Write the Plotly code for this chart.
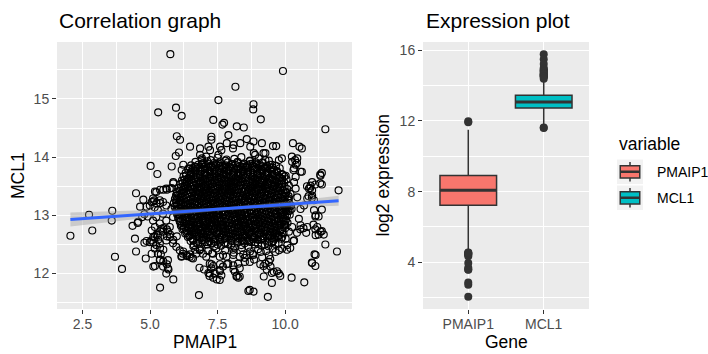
import plotly.graph_objects as go

W, H = 708, 354

# ---------------- data ----------------
# scatter: PMAIP1 (x) vs MCL1 (y)
pmaip1 = [
    5.75, 9.92, 8.16, 7.53, 8.83, 8.82, 5.96, 5.30, 6.17, 7.34,
    7.74, 7.68, 9.10, 8.21, 8.47, 11.49, 7.90, 5.99, 6.11, 7.27,
    7.27, 8.58, 8.83, 9.14, 6.48, 6.85, 7.16, 7.22, 7.84, 8.09,
    8.34, 8.71, 9.20, 9.55, 9.67, 10.29, 10.53, 10.62, 7.59, 7.53,
    5.95, 6.07, 5.02, 5.27, 5.80, 6.23, 6.17, 6.85, 6.91, 8.89,
    9.88, 10.25, 10.37, 10.44, 11.36, 11.30, 10.62, 10.31, 7.64, 8.07,
    7.08, 6.59, 8.84, 9.27, 9.77, 10.26, 10.45, 10.39, 10.33, 9.52,
    10.57, 2.05, 2.74, 2.86, 3.60, 3.58, 3.70, 3.96, 4.35, 4.48,
    4.44, 4.48, 4.56, 4.75, 4.63, 4.87, 4.84, 4.87, 5.12, 5.30,
    5.24, 5.37, 5.49, 5.62, 5.62, 5.74, 5.86, 5.99, 5.18, 5.12,
    5.37, 5.40, 5.37, 5.49, 5.62, 5.68, 5.86, 5.37, 5.49, 5.12,
    5.24, 5.37, 5.18, 5.37, 5.49, 5.62, 5.86, 5.80, 5.99, 6.17,
    6.23, 6.36, 6.48, 6.54, 6.60, 6.67, 6.83, 7.00, 7.16, 7.20,
    7.34, 7.47, 7.59, 6.81, 7.28, 7.34, 7.59, 7.84, 8.09, 8.21,
    8.27, 8.64, 8.83, 9.36, 9.20, 9.32, 9.51, 9.70, 9.82, 9.51,
    9.08, 10.07, 10.19, 10.31, 10.44, 10.56, 10.68, 10.78, 10.24, 10.71,
    10.99, 11.12, 11.09, 11.05, 11.12, 11.24, 11.36, 11.43, 11.12, 11.24,
    11.36, 11.49, 10.99, 10.87, 11.30, 11.36, 11.12, 10.81, 10.93, 11.92,
    11.98, 4.79, 4.71, 4.91, 4.99, 5.06, 5.16, 4.54, 4.79, 4.99,
    5.06, 5.12, 5.06, 5.18, 5.06, 5.60, 5.66, 5.48, 5.36, 5.66,
    5.29, 7.21, 7.27, 7.21, 7.40, 7.58, 7.64, 7.58, 7.70, 7.89,
    8.08, 8.26, 8.32, 8.14, 8.20, 8.32, 8.69, 8.51, 8.69, 5.48,
    5.29, 5.17, 5.36, 5.23, 5.17, 5.60, 5.73, 5.85, 5.97, 6.10,
    6.22, 6.16, 6.35, 6.47, 6.59, 6.71, 6.84, 6.96, 7.08, 7.33,
    7.58, 7.83, 8.08, 8.32, 8.57, 8.82, 5.86, 5.60, 5.73, 5.23,
    5.11, 5.36, 5.17, 11.31, 11.00, 10.94, 10.88, 11.00, 11.00, 10.82,
    11.07, 10.39, 10.33, 10.14, 10.39, 10.20, 10.45, 10.14, 10.70, 11.07,
    11.13, 10.51, 10.82, 10.57, 11.19, 11.31, 11.13, 10.33, 10.02, 10.08,
    9.89, 9.77, 9.64, 11.13, 11.00, 9.77, 9.58, 9.46, 9.27, 9.40,
    9.21, 10.02, 10.26, 10.14, 9.89, 10.57, 10.02, 10.02, 9.89, 9.58,
    5.11, 5.23, 5.36, 5.48, 5.60, 5.73, 5.85, 5.42, 5.66, 5.29,
    5.60, 5.79, 5.97, 5.48,
    # dense core, row by row
    6.92, 7.24, 7.50, 7.83, 8.12, 8.38, 8.70, 9.02, 9.27,
    6.68, 6.93, 7.12, 7.37, 7.58, 7.79, 8.03, 8.24, 8.47, 8.69, 8.91, 9.15, 9.40,
    6.52, 6.70, 6.90, 7.06, 7.25, 7.43, 7.60, 7.80, 7.97, 8.16, 8.33, 8.52, 8.70, 8.88, 9.07, 9.25, 9.44, 9.66,
    6.41, 6.60, 6.77, 6.95, 7.13, 7.30, 7.47, 7.66, 7.83, 8.00, 8.19, 8.36, 8.54, 8.71, 8.89, 9.06, 9.24, 9.43, 9.60, 9.80,
    6.32, 6.50, 6.68, 6.85, 7.02, 7.20, 7.38, 7.55, 7.72, 7.90, 8.08, 8.26, 8.44, 8.62, 8.80, 8.98, 9.15, 9.33, 9.52, 9.70, 9.90,
    6.24, 6.42, 6.60, 6.77, 6.94, 7.11, 7.29, 7.47, 7.64, 7.82, 8.00, 8.17, 8.35, 8.53, 8.71, 8.89, 9.07, 9.25, 9.43, 9.61, 9.80, 9.97,
    6.18, 6.35, 6.52, 6.70, 6.87, 7.04, 7.21, 7.39, 7.56, 7.73, 7.91, 8.09, 8.26, 8.44, 8.62, 8.80, 8.98, 9.16, 9.34, 9.52, 9.70, 9.88, 10.05,
    6.12, 6.28, 6.45, 6.62, 6.79, 6.96, 7.13, 7.30, 7.48, 7.65, 7.82, 8.00, 8.17, 8.35, 8.53, 8.71, 8.89, 9.07, 9.25, 9.43, 9.61, 9.79, 9.97,
    6.05, 6.22, 6.39, 6.56, 6.73, 6.90, 7.07, 7.24, 7.41, 7.58, 7.75, 7.92, 8.10, 8.27, 8.45, 8.63, 8.81, 8.99, 9.17, 9.35, 9.53, 9.71, 9.89, 10.08,
    6.00, 6.17, 6.34, 6.51, 6.68, 6.85, 7.02, 7.19, 7.36, 7.53, 7.70, 7.87, 8.04, 8.21, 8.39, 8.57, 8.75, 8.93, 9.11, 9.29, 9.47, 9.65, 9.83, 10.01,
    5.96, 6.12, 6.29, 6.46, 6.63, 6.80, 6.97, 7.14, 7.31, 7.48, 7.65, 7.82, 7.99, 8.16, 8.33, 8.51, 8.69, 8.87, 9.05, 9.23, 9.41, 9.59, 9.77, 9.95, 10.13,
    5.92, 6.08, 6.25, 6.42, 6.59, 6.76, 6.93, 7.10, 7.27, 7.44, 7.61, 7.78, 7.95, 8.12, 8.30, 8.48, 8.66, 8.84, 9.02, 9.20, 9.38, 9.56, 9.74, 9.92, 10.10,
    5.88, 6.05, 6.22, 6.39, 6.56, 6.73, 6.90, 7.07, 7.24, 7.41, 7.58, 7.75, 7.92, 8.09, 8.26, 8.44, 8.62, 8.80, 8.98, 9.16, 9.34, 9.52, 9.70, 9.88, 10.06, 10.22,
    5.91, 6.07, 6.24, 6.41, 6.58, 6.75, 6.92, 7.09, 7.26, 7.43, 7.60, 7.77, 7.94, 8.11, 8.28, 8.46, 8.64, 8.82, 9.00, 9.18, 9.36, 9.54, 9.72, 9.90, 10.08, 10.24,
    5.95, 6.11, 6.28, 6.45, 6.62, 6.79, 6.96, 7.13, 7.30, 7.47, 7.64, 7.81, 7.98, 8.15, 8.32, 8.50, 8.68, 8.86, 9.04, 9.22, 9.40, 9.58, 9.76, 9.94, 10.12,
    6.00, 6.16, 6.33, 6.50, 6.67, 6.84, 7.01, 7.18, 7.35, 7.52, 7.69, 7.86, 8.03, 8.20, 8.37, 8.55, 8.73, 8.91, 9.09, 9.27, 9.45, 9.63, 9.81, 9.99, 10.17,
    6.04, 6.20, 6.37, 6.54, 6.71, 6.88, 7.05, 7.22, 7.39, 7.56, 7.73, 7.90, 8.07, 8.24, 8.41, 8.59, 8.77, 8.95, 9.13, 9.31, 9.49, 9.67, 9.85, 10.03,
    6.10, 6.26, 6.43, 6.60, 6.77, 6.94, 7.11, 7.28, 7.45, 7.62, 7.79, 7.96, 8.13, 8.30, 8.47, 8.65, 8.83, 9.01, 9.19, 9.37, 9.55, 9.73, 9.91, 10.09,
    6.14, 6.31, 6.48, 6.65, 6.82, 6.99, 7.16, 7.33, 7.50, 7.67, 7.84, 8.01, 8.18, 8.35, 8.52, 8.70, 8.88, 9.06, 9.24, 9.42, 9.60, 9.78, 9.96,
    6.20, 6.37, 6.54, 6.71, 6.88, 7.05, 7.22, 7.39, 7.56, 7.73, 7.90, 8.07, 8.24, 8.41, 8.58, 8.76, 8.94, 9.12, 9.30, 9.48, 9.66, 9.84, 10.00,
    6.30, 6.47, 6.64, 6.81, 6.98, 7.15, 7.32, 7.49, 7.66, 7.83, 8.00, 8.17, 8.34, 8.51, 8.68, 8.86, 9.04, 9.22, 9.40, 9.58, 9.76, 9.94,
    6.40, 6.57, 6.74, 6.91, 7.08, 7.25, 7.42, 7.59, 7.76, 7.93, 8.10, 8.27, 8.44, 8.61, 8.79, 8.97, 9.15, 9.33, 9.51, 9.69, 9.86,
    6.50, 6.72, 6.93, 7.15, 7.37, 7.58, 7.80, 8.02, 8.24, 8.46, 8.68, 8.90, 9.12, 9.34, 9.56, 9.76,
    6.62, 6.88, 7.12, 7.38, 7.63, 7.88, 8.13, 8.38, 8.63, 8.88, 9.13, 9.38, 9.64,
    6.85, 7.15, 7.45, 7.78, 8.08, 8.40, 8.70, 9.00, 9.30, 9.55,
    7.30, 7.70, 8.10, 8.45, 8.80, 9.10, 9.40,
    8.50, 8.85, 9.15, 9.45,
    # dense core, in-between rows
    6.78, 6.97, 7.16, 7.34, 7.52, 7.69, 7.88, 8.06, 8.25, 8.43, 8.61, 8.79, 8.98, 9.17, 9.33,
    6.48, 6.66, 6.86, 7.03, 7.21, 7.39, 7.56, 7.75, 7.91, 8.09, 8.27, 8.45, 8.62, 8.80, 8.97, 9.16, 9.34, 9.53,
    6.50, 6.68, 6.86, 7.04, 7.22, 7.39, 7.57, 7.74, 7.92, 8.10, 8.27, 8.45, 8.63, 8.81, 8.98, 9.16, 9.34, 9.52, 9.70,
    6.33, 6.51, 6.69, 6.86, 7.03, 7.20, 7.38, 7.56, 7.73, 7.91, 8.09, 8.26, 8.44, 8.62, 8.80, 8.98, 9.16, 9.34, 9.52, 9.71, 9.88,
    6.27, 6.44, 6.61, 6.79, 6.96, 7.13, 7.30, 7.48, 7.65, 7.82, 8.00, 8.18, 8.35, 8.53, 8.71, 8.89, 9.07, 9.25, 9.43, 9.61, 9.79,
    6.20, 6.37, 6.54, 6.71, 6.88, 7.05, 7.22, 7.39, 7.57, 7.74, 7.91, 8.09, 8.26, 8.44, 8.62, 8.80, 8.98, 9.16, 9.34, 9.52, 9.70, 9.88,
    6.14, 6.31, 6.48, 6.65, 6.82, 6.99, 7.16, 7.33, 7.50, 7.67, 7.84, 8.01, 8.19, 8.36, 8.54, 8.72, 8.90, 9.08, 9.26, 9.44, 9.62, 9.80, 9.98,
    6.09, 6.26, 6.43, 6.60, 6.77, 6.94, 7.11, 7.28, 7.45, 7.62, 7.79, 7.96, 8.13, 8.30, 8.48, 8.66, 8.84, 9.02, 9.20, 9.38, 9.56, 9.74, 9.92,
    6.04, 6.21, 6.38, 6.55, 6.72, 6.89, 7.06, 7.23, 7.40, 7.57, 7.74, 7.91, 8.08, 8.25, 8.42, 8.60, 8.78, 8.96, 9.14, 9.32, 9.50, 9.68, 9.86, 10.04,
    6.00, 6.17, 6.34, 6.51, 6.68, 6.85, 7.02, 7.19, 7.36, 7.53, 7.70, 7.87, 8.04, 8.21, 8.38, 8.56, 8.74, 8.92, 9.10, 9.28, 9.46, 9.64, 9.82, 10.00,
    5.97, 6.14, 6.31, 6.48, 6.65, 6.82, 6.99, 7.16, 7.33, 7.50, 7.67, 7.84, 8.01, 8.18, 8.35, 8.53, 8.71, 8.89, 9.07, 9.25, 9.43, 9.61, 9.79, 9.97, 10.15,
    5.98, 6.15, 6.32, 6.49, 6.66, 6.83, 7.00, 7.17, 7.34, 7.51, 7.68, 7.85, 8.02, 8.19, 8.36, 8.54, 8.72, 8.90, 9.08, 9.26, 9.44, 9.62, 9.80, 9.98, 10.16,
    6.00, 6.17, 6.34, 6.51, 6.68, 6.85, 7.02, 7.19, 7.36, 7.53, 7.70, 7.87, 8.04, 8.21, 8.38, 8.56, 8.74, 8.92, 9.10, 9.28, 9.46, 9.64, 9.82, 10.00, 10.17,
    6.03, 6.20, 6.37, 6.54, 6.71, 6.88, 7.05, 7.22, 7.39, 7.56, 7.73, 7.90, 8.07, 8.24, 8.41, 8.59, 8.77, 8.95, 9.13, 9.31, 9.49, 9.67, 9.85, 10.03,
    6.08, 6.25, 6.42, 6.59, 6.76, 6.93, 7.10, 7.27, 7.44, 7.61, 7.78, 7.95, 8.12, 8.29, 8.46, 8.64, 8.82, 9.00, 9.18, 9.36, 9.54, 9.72, 9.90, 10.07,
    6.13, 6.30, 6.47, 6.64, 6.81, 6.98, 7.15, 7.32, 7.49, 7.66, 7.83, 8.00, 8.17, 8.34, 8.51, 8.69, 8.87, 9.05, 9.23, 9.41, 9.59, 9.77, 9.95,
    6.18, 6.35, 6.52, 6.69, 6.86, 7.03, 7.20, 7.37, 7.54, 7.71, 7.88, 8.05, 8.22, 8.39, 8.56, 8.74, 8.92, 9.10, 9.28, 9.46, 9.64, 9.82, 10.00,
    6.25, 6.42, 6.59, 6.76, 6.93, 7.10, 7.27, 7.44, 7.61, 7.78, 7.95, 8.12, 8.29, 8.46, 8.63, 8.81, 8.99, 9.17, 9.35, 9.53, 9.71, 9.89,
    6.35, 6.52, 6.69, 6.86, 7.03, 7.20, 7.37, 7.54, 7.71, 7.88, 8.05, 8.22, 8.39, 8.56, 8.73, 8.91, 9.09, 9.27, 9.45, 9.63, 9.81,
    6.45, 6.62, 6.79, 6.96, 7.13, 7.30, 7.47, 7.64, 7.81, 7.98, 8.15, 8.32, 8.49, 8.66, 8.84, 9.02, 9.20, 9.38, 9.56, 9.74,
    6.60, 6.80, 7.00, 7.20, 7.40, 7.60, 7.80, 8.00, 8.20, 8.40, 8.60, 8.80, 9.00, 9.20, 9.40, 9.60,
    6.78, 7.02, 7.27, 7.50, 7.75, 8.00, 8.25, 8.50, 8.75, 9.00, 9.25, 9.50,
]

mcl1 = [
    15.77, 15.48, 15.21, 14.98, 14.91, 14.82, 14.85, 14.77, 14.71, 14.64,
    14.59, 14.56, 14.65, 14.53, 14.51, 14.48, 14.38, 14.36, 14.30, 14.35,
    14.30, 14.31, 14.27, 14.24, 14.18, 14.15, 14.18, 14.12, 14.24, 14.21,
    14.24, 14.18, 14.07, 14.19, 14.19, 14.24, 14.18, 14.15, 14.18, 14.04,
    14.02, 14.08, 13.85, 13.71, 13.84, 13.87, 13.78, 14.04, 13.95, 14.04,
    13.98, 14.01, 13.95, 13.90, 13.73, 13.70, 13.75, 13.78, 14.12, 14.15,
    14.01, 13.81, 14.07, 14.07, 13.95, 13.92, 13.98, 13.87, 13.81, 13.87,
    13.75, 12.65, 13.01, 12.74, 13.08, 12.91, 12.29, 12.08, 12.82, 13.38,
    12.60, 12.38, 12.89, 13.27, 13.15, 13.15, 12.26, 12.56, 12.53, 12.58,
    12.67, 12.73, 12.78, 12.76, 12.64, 12.67, 12.58, 12.64, 12.13, 12.12,
    11.76, 12.33, 12.24, 12.21, 12.16, 12.07, 11.90, 12.44, 12.41, 13.24,
    13.21, 13.21, 13.41, 13.44, 13.44, 13.44, 13.55, 13.47, 13.38, 12.30,
    12.38, 12.30, 12.33, 12.27, 12.47, 12.41, 12.10, 12.07, 12.01, 11.96,
    11.93, 11.90, 12.04, 11.63, 12.16, 12.13, 12.16, 12.16, 12.07, 11.96,
    11.93, 11.70, 11.69, 11.60, 12.13, 12.07, 12.01, 12.04, 11.96, 11.84,
    12.16, 12.41, 12.44, 12.56, 12.70, 12.76, 12.78, 12.70, 11.93, 11.85,
    12.19, 12.13, 12.33, 12.84, 12.76, 12.67, 12.73, 12.67, 12.98, 12.98,
    13.10, 12.50, 13.30, 13.33, 13.55, 13.53, 13.53, 13.50, 13.47, 12.38,
    13.43, 13.02, 12.97, 12.98, 13.17, 13.23, 13.26, 12.87, 12.53, 12.54,
    12.57, 12.63, 12.74, 12.80, 12.34, 12.00, 12.09, 12.12, 12.23, 12.23,
    12.34, 12.17, 12.09, 12.00, 12.00, 11.89, 11.97, 12.06, 12.12, 12.17,
    12.14, 12.17, 12.09, 12.03, 11.95, 11.95, 11.72, 12.20, 12.20, 12.72,
    12.66, 12.63, 12.52, 12.49, 12.43, 12.57, 12.63, 12.52, 12.46, 12.40,
    12.34, 12.29, 12.32, 12.29, 12.26, 12.34, 12.40, 12.34, 12.29, 12.34,
    12.29, 12.29, 12.32, 12.29, 12.32, 12.32, 13.57, 13.46, 13.46, 13.40,
    13.29, 13.26, 13.14, 13.68, 13.57, 13.51, 13.46, 13.43, 13.34, 13.29,
    13.26, 13.66, 13.57, 13.51, 13.46, 13.37, 13.31, 13.29, 13.17, 13.09,
    13.00, 12.94, 12.80, 12.83, 12.80, 12.72, 12.66, 12.57, 12.60, 12.49,
    12.43, 12.40, 12.37, 12.32, 12.18, 12.00, 12.03, 12.12, 12.17, 12.20,
    11.95, 12.91, 12.80, 12.72, 12.63, 13.11, 13.14, 13.68, 13.63, 13.49,
    12.91, 12.97, 12.86, 13.03, 12.91, 12.80, 12.97, 12.77, 12.72, 13.09,
    13.17, 13.11, 13.26, 13.23,
    # dense core, row by row
    13.98, 13.95, 13.99, 13.96, 13.97, 14.00, 13.94, 13.98, 13.95,
    13.92, 13.89, 13.93, 13.90, 13.91, 13.94, 13.88, 13.92, 13.89, 13.93, 13.91, 13.90, 13.94,
    13.86, 13.83, 13.87, 13.84, 13.85, 13.88, 13.82, 13.86, 13.83, 13.87, 13.85, 13.84, 13.88, 13.83, 13.86, 13.82, 13.87, 13.85,
    13.80, 13.77, 13.81, 13.78, 13.79, 13.82, 13.76, 13.80, 13.77, 13.81, 13.79, 13.78, 13.82, 13.77, 13.80, 13.76, 13.81, 13.79, 13.78, 13.81,
    13.73, 13.70, 13.74, 13.71, 13.72, 13.75, 13.69, 13.73, 13.70, 13.74, 13.72, 13.71, 13.75, 13.70, 13.73, 13.69, 13.74, 13.72, 13.71, 13.74, 13.70,
    13.67, 13.64, 13.68, 13.65, 13.66, 13.69, 13.63, 13.67, 13.64, 13.68, 13.66, 13.65, 13.69, 13.64, 13.67, 13.63, 13.68, 13.66, 13.65, 13.68, 13.64, 13.67,
    13.60, 13.57, 13.61, 13.58, 13.59, 13.62, 13.56, 13.60, 13.57, 13.61, 13.59, 13.58, 13.62, 13.57, 13.60, 13.56, 13.61, 13.59, 13.58, 13.61, 13.57, 13.60, 13.62,
    13.54, 13.51, 13.55, 13.52, 13.53, 13.56, 13.50, 13.54, 13.51, 13.55, 13.53, 13.52, 13.56, 13.51, 13.54, 13.50, 13.55, 13.53, 13.52, 13.55, 13.51, 13.54, 13.56,
    13.47, 13.44, 13.48, 13.45, 13.46, 13.49, 13.43, 13.47, 13.44, 13.48, 13.46, 13.45, 13.49, 13.44, 13.47, 13.43, 13.48, 13.46, 13.45, 13.48, 13.44, 13.47, 13.49, 13.45,
    13.41, 13.38, 13.42, 13.39, 13.40, 13.43, 13.37, 13.41, 13.38, 13.42, 13.40, 13.39, 13.43, 13.38, 13.41, 13.37, 13.42, 13.40, 13.39, 13.42, 13.38, 13.41, 13.43, 13.39,
    13.34, 13.31, 13.35, 13.32, 13.33, 13.36, 13.30, 13.34, 13.31, 13.35, 13.33, 13.32, 13.36, 13.31, 13.34, 13.30, 13.35, 13.33, 13.32, 13.35, 13.31, 13.34, 13.36, 13.32, 13.33,
    13.28, 13.25, 13.29, 13.26, 13.27, 13.30, 13.24, 13.28, 13.25, 13.29, 13.27, 13.26, 13.30, 13.25, 13.28, 13.24, 13.29, 13.27, 13.26, 13.29, 13.25, 13.28, 13.30, 13.26, 13.27,
    13.21, 13.18, 13.22, 13.19, 13.20, 13.23, 13.17, 13.21, 13.18, 13.22, 13.20, 13.19, 13.23, 13.18, 13.21, 13.17, 13.22, 13.20, 13.19, 13.22, 13.18, 13.21, 13.23, 13.19, 13.20, 13.17,
    13.15, 13.12, 13.16, 13.13, 13.14, 13.17, 13.11, 13.15, 13.12, 13.16, 13.14, 13.13, 13.17, 13.12, 13.15, 13.11, 13.16, 13.14, 13.13, 13.16, 13.12, 13.15, 13.17, 13.13, 13.14, 13.11,
    13.08, 13.05, 13.09, 13.06, 13.07, 13.10, 13.04, 13.08, 13.05, 13.09, 13.07, 13.06, 13.10, 13.05, 13.08, 13.04, 13.09, 13.07, 13.06, 13.09, 13.05, 13.08, 13.10, 13.06, 13.07,
    13.02, 12.99, 13.03, 13.00, 13.01, 13.04, 12.98, 13.02, 12.99, 13.03, 13.01, 13.00, 13.04, 12.99, 13.02, 12.98, 13.03, 13.01, 13.00, 13.03, 12.99, 13.02, 13.04, 13.00, 13.01,
    12.95, 12.92, 12.96, 12.93, 12.94, 12.97, 12.91, 12.95, 12.92, 12.96, 12.94, 12.93, 12.97, 12.92, 12.95, 12.91, 12.96, 12.94, 12.93, 12.96, 12.92, 12.95, 12.97, 12.93,
    12.89, 12.86, 12.90, 12.87, 12.88, 12.91, 12.85, 12.89, 12.86, 12.90, 12.88, 12.87, 12.91, 12.86, 12.89, 12.85, 12.90, 12.88, 12.87, 12.90, 12.86, 12.89, 12.91, 12.87,
    12.82, 12.79, 12.83, 12.80, 12.81, 12.84, 12.78, 12.82, 12.79, 12.83, 12.81, 12.80, 12.84, 12.79, 12.82, 12.78, 12.83, 12.81, 12.80, 12.83, 12.79, 12.82, 12.84,
    12.76, 12.73, 12.77, 12.74, 12.75, 12.78, 12.72, 12.76, 12.73, 12.77, 12.75, 12.74, 12.78, 12.73, 12.76, 12.72, 12.77, 12.75, 12.74, 12.77, 12.73, 12.76, 12.78,
    12.69, 12.66, 12.70, 12.67, 12.68, 12.71, 12.65, 12.69, 12.66, 12.70, 12.68, 12.67, 12.71, 12.66, 12.69, 12.65, 12.70, 12.68, 12.67, 12.70, 12.66, 12.69,
    12.63, 12.60, 12.64, 12.61, 12.62, 12.65, 12.59, 12.63, 12.60, 12.64, 12.62, 12.61, 12.65, 12.60, 12.63, 12.59, 12.64, 12.62, 12.61, 12.64, 12.60,
    12.56, 12.53, 12.57, 12.54, 12.55, 12.58, 12.52, 12.56, 12.53, 12.57, 12.55, 12.54, 12.58, 12.53, 12.56, 12.52,
    12.49, 12.46, 12.50, 12.47, 12.48, 12.51, 12.45, 12.49, 12.46, 12.50, 12.48, 12.47, 12.51,
    12.42, 12.39, 12.43, 12.40, 12.41, 12.44, 12.38, 12.42, 12.39, 12.43,
    12.35, 12.32, 12.36, 12.33, 12.34, 12.37, 12.31,
    12.27, 12.24, 12.28, 12.25,
    # dense core, in-between rows
    13.87, 13.90, 13.88, 13.86, 13.89, 13.85, 13.91, 13.88, 13.90, 13.87, 13.86, 13.89, 13.88, 13.91, 13.85,
    13.81, 13.84, 13.82, 13.80, 13.83, 13.79, 13.85, 13.82, 13.84, 13.81, 13.80, 13.83, 13.82, 13.85, 13.79, 13.84, 13.81, 13.82,
    13.74, 13.77, 13.75, 13.73, 13.76, 13.72, 13.78, 13.75, 13.77, 13.74, 13.73, 13.76, 13.75, 13.78, 13.72, 13.77, 13.74, 13.75, 13.76,
    13.68, 13.71, 13.69, 13.67, 13.70, 13.66, 13.72, 13.69, 13.71, 13.68, 13.67, 13.70, 13.69, 13.72, 13.66, 13.71, 13.68, 13.69, 13.70, 13.67, 13.71,
    13.61, 13.64, 13.62, 13.60, 13.63, 13.59, 13.65, 13.62, 13.64, 13.61, 13.60, 13.63, 13.62, 13.65, 13.59, 13.64, 13.61, 13.62, 13.63, 13.60, 13.64,
    13.55, 13.58, 13.56, 13.54, 13.57, 13.53, 13.59, 13.56, 13.58, 13.55, 13.54, 13.57, 13.56, 13.59, 13.53, 13.58, 13.55, 13.56, 13.57, 13.54, 13.58, 13.55,
    13.48, 13.51, 13.49, 13.47, 13.50, 13.46, 13.52, 13.49, 13.51, 13.48, 13.47, 13.50, 13.49, 13.52, 13.46, 13.51, 13.48, 13.49, 13.50, 13.47, 13.51, 13.48, 13.49,
    13.42, 13.45, 13.43, 13.41, 13.44, 13.40, 13.46, 13.43, 13.45, 13.42, 13.41, 13.44, 13.43, 13.46, 13.40, 13.45, 13.42, 13.43, 13.44, 13.41, 13.45, 13.42, 13.43,
    13.35, 13.38, 13.36, 13.34, 13.37, 13.33, 13.39, 13.36, 13.38, 13.35, 13.34, 13.37, 13.36, 13.39, 13.33, 13.38, 13.35, 13.36, 13.37, 13.34, 13.38, 13.35, 13.36, 13.39,
    13.29, 13.32, 13.30, 13.28, 13.31, 13.27, 13.33, 13.30, 13.32, 13.29, 13.28, 13.31, 13.30, 13.33, 13.27, 13.32, 13.29, 13.30, 13.31, 13.28, 13.32, 13.29, 13.30, 13.33,
    13.22, 13.25, 13.23, 13.21, 13.24, 13.20, 13.26, 13.23, 13.25, 13.22, 13.21, 13.24, 13.23, 13.26, 13.20, 13.25, 13.22, 13.23, 13.24, 13.21, 13.25, 13.22, 13.23, 13.26, 13.21,
    13.16, 13.19, 13.17, 13.15, 13.18, 13.14, 13.20, 13.17, 13.19, 13.16, 13.15, 13.18, 13.17, 13.20, 13.14, 13.19, 13.16, 13.17, 13.18, 13.15, 13.19, 13.16, 13.17, 13.20, 13.15,
    13.09, 13.12, 13.10, 13.08, 13.11, 13.07, 13.13, 13.10, 13.12, 13.09, 13.08, 13.11, 13.10, 13.13, 13.07, 13.12, 13.09, 13.10, 13.11, 13.08, 13.12, 13.09, 13.10, 13.13, 13.08,
    13.03, 13.06, 13.04, 13.02, 13.05, 13.01, 13.07, 13.04, 13.06, 13.03, 13.02, 13.05, 13.04, 13.07, 13.01, 13.06, 13.03, 13.04, 13.05, 13.02, 13.06, 13.03, 13.04, 13.07,
    12.96, 12.99, 12.97, 12.95, 12.98, 12.94, 13.00, 12.97, 12.99, 12.96, 12.95, 12.98, 12.97, 13.00, 12.94, 12.99, 12.96, 12.97, 12.98, 12.95, 12.99, 12.96, 12.97, 13.00,
    12.90, 12.93, 12.91, 12.89, 12.92, 12.88, 12.94, 12.91, 12.93, 12.90, 12.89, 12.92, 12.91, 12.94, 12.88, 12.93, 12.90, 12.91, 12.92, 12.89, 12.93, 12.90, 12.91,
    12.83, 12.86, 12.84, 12.82, 12.85, 12.81, 12.87, 12.84, 12.86, 12.83, 12.82, 12.85, 12.84, 12.87, 12.81, 12.86, 12.83, 12.84, 12.85, 12.82, 12.86, 12.83, 12.84,
    12.77, 12.80, 12.78, 12.76, 12.79, 12.75, 12.81, 12.78, 12.80, 12.77, 12.76, 12.79, 12.78, 12.81, 12.75, 12.80, 12.77, 12.78, 12.79, 12.76, 12.80, 12.77,
    12.70, 12.73, 12.71, 12.69, 12.72, 12.68, 12.74, 12.71, 12.73, 12.70, 12.69, 12.72, 12.71, 12.74, 12.68, 12.73, 12.70, 12.71, 12.72, 12.69, 12.73,
    12.64, 12.67, 12.65, 12.63, 12.66, 12.62, 12.68, 12.65, 12.67, 12.64, 12.63, 12.66, 12.65, 12.68, 12.62, 12.67, 12.64, 12.65, 12.66, 12.63,
    12.57, 12.60, 12.58, 12.56, 12.59, 12.55, 12.61, 12.58, 12.60, 12.57, 12.56, 12.59, 12.58, 12.61, 12.55, 12.60,
    12.51, 12.54, 12.52, 12.50, 12.53, 12.49, 12.55, 12.52, 12.54, 12.51, 12.50, 12.53,
]

assert len(pmaip1) == len(mcl1), (len(pmaip1), len(mcl1))

# linear fit (geom_smooth, method = lm) with its confidence band
fit_x = [2.05, 3.0, 4.0, 5.0, 6.0, 7.0, 7.9, 9.0, 10.0, 11.0, 11.98]
fit_y = [12.930, 12.961, 12.993, 13.025, 13.057, 13.089, 13.118, 13.154, 13.186, 13.218, 13.250]
fit_lo = [12.810, 12.860, 12.911, 12.962, 13.011, 13.059, 13.093, 13.121, 13.138, 13.151, 13.164]
fit_hi = [13.050, 13.062, 13.075, 13.088, 13.103, 13.119, 13.143, 13.187, 13.234, 13.285, 13.336]

# boxplot summary statistics
genes = ["PMAIP1", "MCL1"]
gene_colors = ["#F8766D", "#00BFC4"]
box_q1 = [7.23, 12.72]
box_median = [8.07, 13.07]
box_q3 = [8.91, 13.44]
box_lowerfence = [4.63, 11.68]
box_upperfence = [11.49, 14.36]
gene_values = [pmaip1, mcl1]

# ---------------- helpers ----------------
FONT = "Liberation Sans, Arial, Helvetica, sans-serif"
TICK_COLOR = "#333333"
LABEL_COLOR = "#4D4D4D"


def fx(p):
    return p / W


def fy(p):
    return 1 - p / H


def expand(vals, f=0.05):
    lo, hi = min(vals), max(vals)
    d = (hi - lo) * f
    return [lo - d, hi + d]


L_X = (57, 352)
R_X = (423, 589)
P_Y = (42, 309)

fig = go.Figure()

# scatter
fig.add_trace(go.Scatter(
    x=pmaip1, y=mcl1, mode="markers", xaxis="x", yaxis="y",
    marker=dict(symbol="circle-open", size=7, color="black", line=dict(width=1.15)),
    showlegend=False, hoverinfo="skip"))

# confidence band + regression line
fig.add_trace(go.Scatter(
    x=fit_x + fit_x[::-1], y=fit_hi + fit_lo[::-1], mode="lines",
    fill="toself", fillcolor="rgba(153,153,153,0.4)", line=dict(width=0),
    xaxis="x", yaxis="y", showlegend=False, hoverinfo="skip"))
fig.add_trace(go.Scatter(
    x=fit_x, y=fit_y, mode="lines", line=dict(color="#3366FF", width=3),
    xaxis="x", yaxis="y", showlegend=False, hoverinfo="skip"))

# boxplots
BOX_W = 0.75
for i, g in enumerate(genes):
    pos = i + 1
    fig.add_trace(go.Box(
        x=[pos], q1=[box_q1[i]], median=[box_median[i]], q3=[box_q3[i]],
        lowerfence=[box_lowerfence[i]], upperfence=[box_upperfence[i]],
        width=BOX_W, whiskerwidth=0, fillcolor=gene_colors[i],
        line=dict(color=TICK_COLOR, width=1.5), boxpoints=False,
        xaxis="x2", yaxis="y2", showlegend=False, hoverinfo="skip"))
    fig.add_trace(go.Scatter(
        x=[pos - BOX_W / 2, pos + BOX_W / 2], y=[box_median[i], box_median[i]],
        mode="lines", line=dict(color=TICK_COLOR, width=3),
        xaxis="x2", yaxis="y2", showlegend=False, hoverinfo="skip"))
    outl = [v for v in gene_values[i] if v < box_lowerfence[i] or v > box_upperfence[i]]
    fig.add_trace(go.Scatter(
        x=[pos] * len(outl), y=outl, mode="markers",
        marker=dict(color=TICK_COLOR, size=8),
        xaxis="x2", yaxis="y2", showlegend=False, hoverinfo="skip"))

axis_common = dict(
    showgrid=True, gridcolor="white", gridwidth=1.3, zeroline=False, showline=False,
    ticks="outside", ticklen=4, tickwidth=1.2, tickcolor=TICK_COLOR,
    tickfont=dict(family=FONT, size=14, color=LABEL_COLOR), automargin=False,
    fixedrange=True)

dom_y = [fy(P_Y[1]), fy(P_Y[0])]

fig.update_layout(
    width=W, height=H, margin=dict(l=0, r=0, t=0, b=0),
    paper_bgcolor="white", plot_bgcolor="#EBEBEB", showlegend=False,
    font=dict(family=FONT),
    xaxis=dict(axis_common, domain=[fx(L_X[0]), fx(L_X[1])], anchor="y",
               range=expand(pmaip1), tick0=0, dtick=2.5, tickformat=".1f",
               ticklabelstandoff=-2,
               minor=dict(tick0=0, dtick=1.25, showgrid=True, gridcolor="white",
                          gridwidth=0.6, ticks="")),
    yaxis=dict(axis_common, domain=dom_y, anchor="x",
               range=expand(mcl1), tick0=0, dtick=1,
               minor=dict(tick0=0, dtick=0.5, showgrid=True, gridcolor="white",
                          gridwidth=0.6, ticks="")),
    xaxis2=dict(axis_common, domain=[fx(R_X[0]), fx(R_X[1])], anchor="y2",
                range=[0.4, 2.6], tickvals=[1, 2], ticktext=genes,
                ticklabelstandoff=-2),
    yaxis2=dict(axis_common, domain=dom_y, anchor="x2",
                range=expand(pmaip1 + mcl1), tick0=0, dtick=4,
                minor=dict(tick0=0, dtick=2, showgrid=True, gridcolor="white",
                           gridwidth=0.6, ticks="")),
)

ann = []


def text(t, x, y, size, xanchor="center", angle=0, color="black", yanchor="middle"):
    ann.append(dict(text=t, x=fx(x), y=fy(y), xref="paper", yref="paper",
                    xanchor=xanchor, yanchor=yanchor, showarrow=False,
                    textangle=angle, font=dict(family=FONT, size=size, color=color)))


text("Correlation graph", 57, 20.5, 21, xanchor="left")
text("Expression plot", 424, 20.5, 21, xanchor="left")
text("PMAIP1", (L_X[0] + L_X[1]) / 2, 354, 17.5, yanchor="bottom")
text("Gene", (R_X[0] + R_X[1]) / 2, 354, 17.5, yanchor="bottom")
text("MCL1", 17.5, (P_Y[0] + P_Y[1]) / 2, 17.5, angle=-90)
text("log2 expression", 382, (P_Y[0] + P_Y[1]) / 2, 17.5, angle=-90)

# legend (drawn by hand, ggplot style)
text("variable", 617, 144, 17.5, xanchor="left")
shapes = []
keys = [(159.5, 184.0), (185.5, 210.0)]
for i, g in enumerate(genes):
    k0, k1 = keys[i]
    kx0, kx1 = 617, 643
    kh = k1 - k0
    kw = kx1 - kx0
    shapes.append(dict(type="rect", xref="paper", yref="paper",
                       x0=fx(kx0), x1=fx(kx1), y0=fy(k1), y1=fy(k0),
                       fillcolor="#F2F2F2", line=dict(width=0), layer="above"))
    cx = (kx0 + kx1) / 2
    shapes.append(dict(type="line", xref="paper", yref="paper",
                       x0=fx(cx), x1=fx(cx), y0=fy(k0 + 0.1 * kh), y1=fy(k0 + 0.9 * kh),
                       line=dict(color=TICK_COLOR, width=1.5), layer="above"))
    shapes.append(dict(type="rect", xref="paper", yref="paper",
                       x0=fx(kx0 + 0.125 * kw), x1=fx(kx0 + 0.875 * kw),
                       y0=fy(k0 + 0.75 * kh), y1=fy(k0 + 0.25 * kh),
                       fillcolor=gene_colors[i], line=dict(color=TICK_COLOR, width=1.5),
                       layer="above"))
    shapes.append(dict(type="line", xref="paper", yref="paper",
                       x0=fx(kx0 + 0.125 * kw), x1=fx(kx0 + 0.875 * kw),
                       y0=fy(k0 + 0.5 * kh), y1=fy(k0 + 0.5 * kh),
                       line=dict(color=TICK_COLOR, width=2.5), layer="above"))
    text(g, 655, (k0 + k1) / 2 + 0.5, 14, xanchor="left")

fig.update_layout(annotations=ann, shapes=shapes)
fig.write_html("out.html")
